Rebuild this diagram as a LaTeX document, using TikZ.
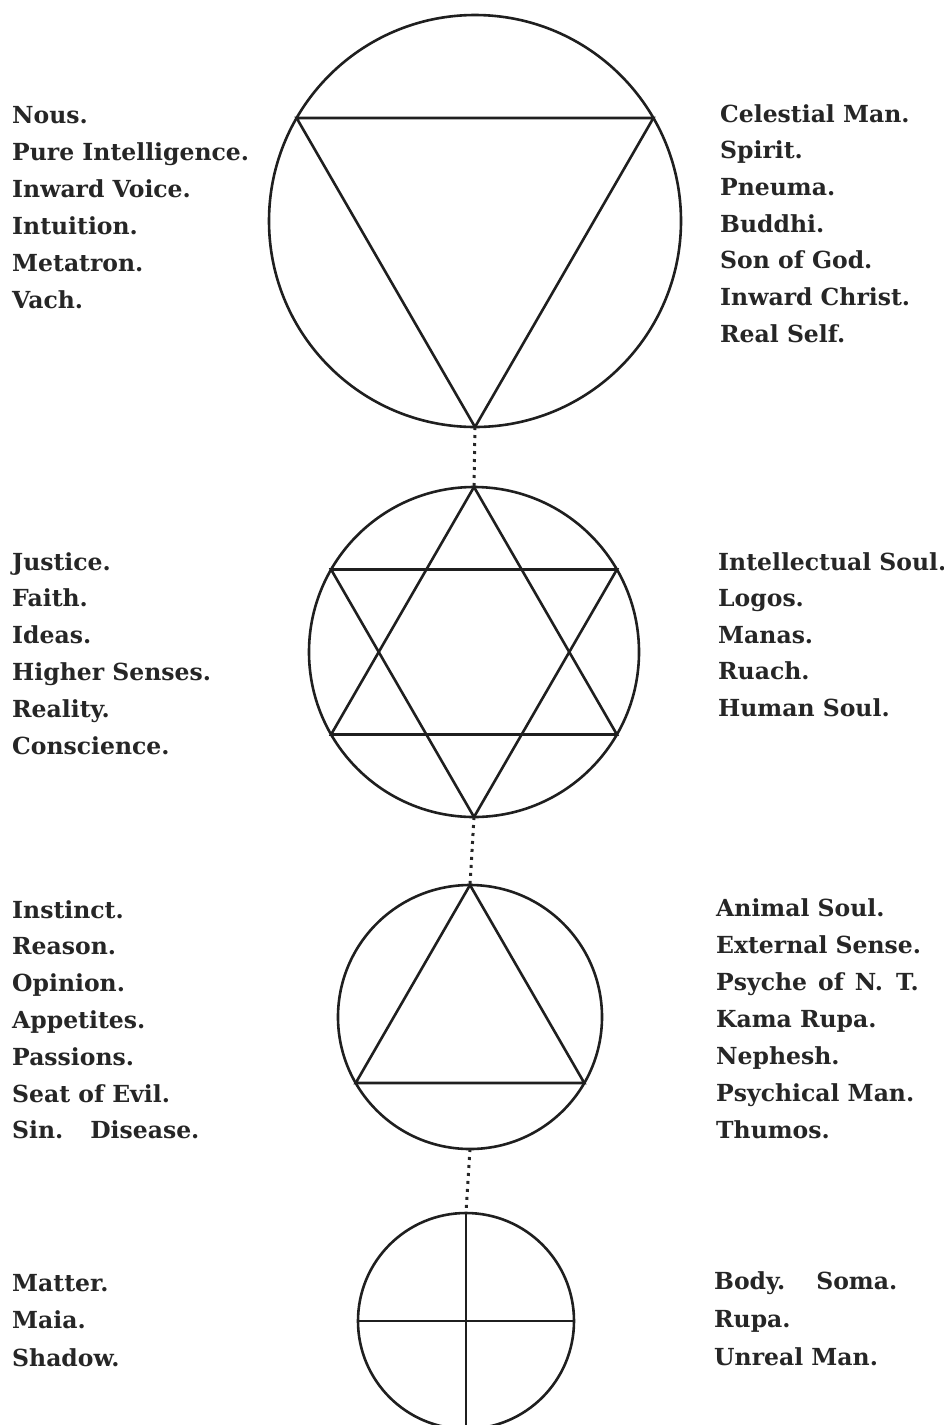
\documentclass[tikz,border=0pt]{standalone}
\usepackage{fontspec}
\setmainfont{DejaVu Serif}
\begin{document}
\begin{tikzpicture}[x=1pt,y=-1pt,
  figline/.style={line width=2.6pt, draw=black!88},
  dotline/.style={line width=3pt, draw=black!85, dash pattern=on 3pt off 5pt},
  lbl/.style={anchor=base west, inner sep=0pt, font=\fontsize{23.5}{23.5}\selectfont\bfseries, text=black!85}]
\useasboundingbox (0,0) rectangle (944,1425);
% centres
\coordinate (c1) at (475,221);
\coordinate (c2) at (474,652);
\coordinate (c3) at (470,1017);
\coordinate (c4) at (466,1321);
% circle 1 with inverted triangle
\draw[figline] (c1) circle (206);
\coordinate (t1a) at (296.6,118);
\coordinate (t1b) at (653.4,118);
\coordinate (t1c) at (475,427);
\draw[figline, line join=miter] (t1a) -- (t1b) -- (t1c) -- cycle;
% circle 2 with hexagram
\draw[figline] (c2) circle (165);
\coordinate (h1) at (474,487);
\coordinate (h2) at (331.1,734.5);
\coordinate (h3) at (616.9,734.5);
\coordinate (h4) at (331.1,569.5);
\coordinate (h5) at (616.9,569.5);
\coordinate (h6) at (474,817);
\draw[figline] (h1) -- (h2) -- (h3) -- cycle;
\draw[figline] (h4) -- (h5) -- (h6) -- cycle;
% circle 3 with triangle
\draw[figline] (c3) circle (132);
\coordinate (u1) at (470,885);
\coordinate (u2) at (355.7,1083);
\coordinate (u3) at (584.3,1083);
\draw[figline] (u1) -- (u2) -- (u3) -- cycle;
% circle 4 with cross
\draw[figline] (c4) circle (108);
\coordinate (k1) at (466,1213);
\coordinate (k2) at (466,1429);
\coordinate (k3) at (358,1321);
\coordinate (k4) at (574,1321);
\draw[figline] (k1) -- (k2);
\draw[figline] (k3) -- (k4);
% dotted connectors
\coordinate (d3) at (470,1149);
\draw[dotline] (t1c) -- (h1);
\draw[dotline] (h6) -- (u1);
\draw[dotline] (d3) -- (k1);
% labels
\foreach \t [count=\i] in {Nous., Pure Intelligence., Inward Voice., Intuition., Metatron., Vach.}
  \node[lbl] (la\i) at (12, 123+37*\i-37) {\t};
\foreach \t [count=\i] in {Celestial Man., Spirit., Pneuma., Buddhi., Son of God., Inward Christ., Real Self.}
  \node[lbl] (ra\i) at (720, 122+36.7*\i-36.7) {\t};
\foreach \t [count=\i] in {Justice., Faith., Ideas., Higher Senses., Reality., Conscience.}
  \node[lbl] (lb\i) at (12, 570+36.8*\i-36.8) {\t};
\foreach \t [count=\i] in {Intellectual Soul., Logos., Manas., Ruach., Human Soul.}
  \node[lbl] (rb\i) at (718, 570+36.5*\i-36.5) {\t};
\foreach \t [count=\i] in {Instinct., Reason., Opinion., Appetites., Passions., Seat of Evil., Sin.\hspace{27pt}Disease.}
  \node[lbl] (lc\i) at (12, 918+36.8*\i-36.8) {\t};
\foreach \t [count=\i] in {Animal Soul., External Sense., Psyche\hspace{11pt}of\hspace{11pt}N.\hspace{13pt}T., Kama Rupa., Nephesh., Psychical Man., Thumos.}
  \node[lbl] (rc\i) at (716, 916+37*\i-37) {\t};
\foreach \t [count=\i] in {Matter., Maia., Shadow.}
  \node[lbl] (ld\i) at (12, 1291+37.5*\i-37.5) {\t};
\foreach \t [count=\i] in {Body.\hspace{31pt}Soma., Rupa., Unreal Man.}
  \node[lbl] (rd\i) at (714, 1289+38*\i-38) {\t};
\end{tikzpicture}
\end{document}
